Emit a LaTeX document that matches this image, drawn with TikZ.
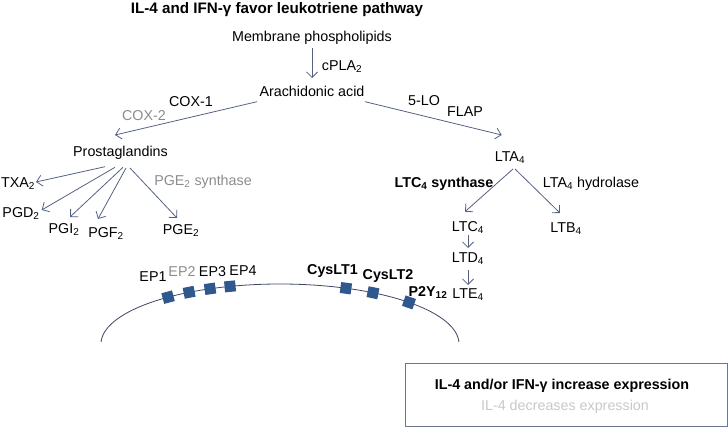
\documentclass[tikz,border=0pt]{standalone}
\usepackage{fontspec}
\setmainfont{Liberation Sans}
\usetikzlibrary{calc,arrows.meta}
\definecolor{arrowblue}{RGB}{84,98,128}
\definecolor{recblue}{RGB}{46,88,142}
\definecolor{membrane}{RGB}{62,72,100}
\definecolor{midgray}{RGB}{140,140,140}
\definecolor{fadegray}{RGB}{200,200,200}
\definecolor{boxline}{RGB}{105,118,140}
\tikzset{
	lbl/.style={inner sep=0pt, text height=10.2pt, text depth=0pt, font=\fontsize{14.3}{16}\selectfont},
	lblb/.style={lbl, font=\fontsize{14.3}{16}\selectfont\bfseries},
	arr/.style={draw=arrowblue, line width=0.8pt, -{Straight Barb[length=5.5pt,width=11pt]}},
	rec/.style={fill=recblue, minimum size=11pt, inner sep=0pt},
}

\begin{document}
\begin{tikzpicture}[x=1pt, y=-1pt]
		%%%%% START %%%%%
		\useasboundingbox (0,0) rectangle (728,427);
		
		\node[lbl, font=\fontsize{15.2}{18}\selectfont\bfseries] (title) at (277,8.5) {IL-4 and IFN-γ favor leukotriene pathway};
		
		\node[lbl] (mp) at (312,36) {Membrane phospholipids};
		\node[lbl] (aa) at (312,91) {Arachidonic acid};
		\node[lbl] (cpla) at (342,65) {cPLA\textsubscript{2}};
		\draw[arr] ($(mp)+(0,12)$) -- ($(aa)+(0,-13)$);
		
		% cyclooxygenase side
		\node[lbl] (cox1) at (191,101.7) {COX-1};
		\node[lbl, text=midgray] (cox2) at (144,115) {COX-2};
		\node[lbl] (pg) at (120.5,151) {Prostaglandins};
		\draw[arr] ($(aa)+(-55,10.7)$) -- ($(pg)+(-5.5,-16)$);
		
		\node[lbl] (txa) at (18,182) {TXA\textsubscript{2}};
		\node[lbl] (pgd) at (21,212) {PGD\textsubscript{2}};
		\node[lbl] (pgi) at (64,228) {PGI\textsubscript{2}};
		\node[lbl] (pgf) at (106,232) {PGF\textsubscript{2}};
		\node[lbl] (pge) at (181,229.5) {PGE\textsubscript{2}};
		\node[lbl, text=midgray] (pges) at (203,180) {PGE\textsubscript{2} synthase};
		\draw[arr] ($(pg)+(-15.5,15.7)$) -- ($(txa)+(18,0)$);
		\draw[arr] ($(pg)+(-5.5,16.3)$) -- ($(pgd)+(20.7,-2)$);
		\draw[arr] ($(pg)+(2.5,16.3)$) -- ($(pgi)+(6,-11)$);
		\draw[arr] ($(pg)+(5.5,17)$) -- ($(pgf)+(-8,-13)$);
		\draw[arr] ($(pg)+(9.5,17)$) -- ($(pge)+(-4,-11.5)$);
		
		% lipoxygenase side
		\node[lbl] (lo) at (424,100) {5-LO};
		\node[lbl] (flap) at (465,111) {FLAP};
		\node[lbl] (lta) at (510,156) {LTA\textsubscript{4}};
		\draw[arr] ($(aa)+(53,10.7)$) -- ($(lta)+(-8.3,-21)$);
		
		\node[lblb] (ltcs) at (444,182) {LTC\textsubscript{4} synthase};
		\node[lbl] (ltah) at (591,182) {LTA\textsubscript{4} hydrolase};
		\node[lbl] (ltc) at (468,226) {LTC\textsubscript{4}};
		\node[lbl] (ltb) at (566,227.5) {LTB\textsubscript{4}};
		\node[lbl] (ltd) at (468,257.5) {LTD\textsubscript{4}};
		\node[lbl] (lte) at (468,293) {LTE\textsubscript{4}};
		\draw[arr] ($(lta)+(3,13)$) -- ($(ltc)+(-3,-14.3)$);
		\draw[arr] ($(lta)+(5,13)$) -- ($(ltb)+(-6,-14.5)$);
		\draw[arr] ($(ltc)+(0,9)$) -- ($(ltd)+(0,-9.5)$);
		\draw[arr] ($(ltd)+(0,12.5)$) -- ($(lte)+(0,-8)$);
		
		% membrane and receptors
		\draw[membrane, line width=0.8pt] plot[domain=2:178, samples=90] ({280+179*cos(\x)}, {344-60*sin(\x)});
		\foreach \t [count=\i] in {128.7,120.5,113,106.2,68.4,58.7,43.9}
			\node[rec, rotate={-atan(60*cos(\t)/(179*sin(\t)))}] (r\i) at ({280+179*cos(\t)}, {344-60*sin(\t)}) {};
		
		\node[lbl] (ep1) at (153,276) {EP1};
		\node[lbl, text=midgray] (ep2) at (182,271) {EP2};
		\node[lbl] (ep3) at (212.5,271) {EP3};
		\node[lbl] (ep4) at (243,270) {EP4};
		\node[lblb] (cys1) at (332.5,269) {CysLT1};
		\node[lblb] (cys2) at (388,274) {CysLT2};
		\node[lblb] (p2y) at (428,291) {P2Y\textsubscript{12}};
		
		% key
		\node[draw=boxline, line width=0.8pt, minimum width=322pt, minimum height=63pt, inner sep=0pt] (key) at (566,394.5) {};
		\node[lblb] (inc) at (562,384.5) {IL-4 and/or IFN-γ increase expression};
		\node[lbl, text=fadegray] (dec) at (565,405) {IL-4 decreases expression};
		
		%%%%% END %%%%%
	\end{tikzpicture}
\end{document}
